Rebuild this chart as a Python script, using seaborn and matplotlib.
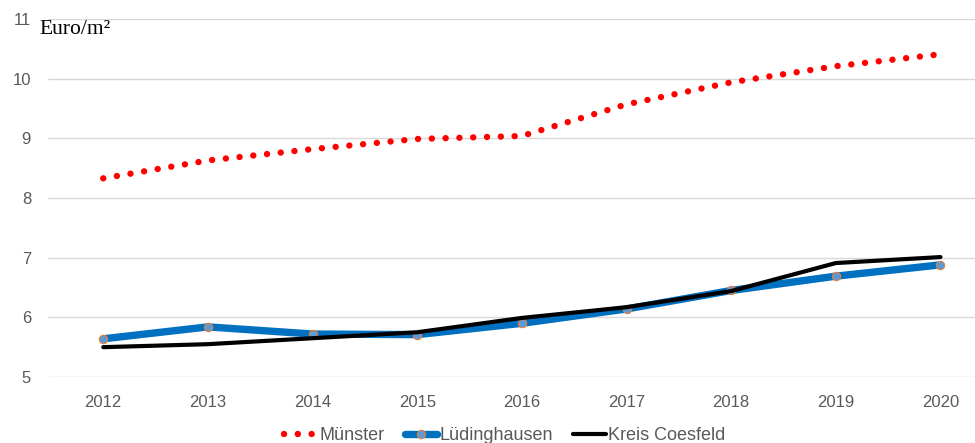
import numpy as np
import pandas as pd
import matplotlib
matplotlib.use('Agg')
import matplotlib.pyplot as plt
import seaborn as sns

# ==================== Daten ====================
years = [2012, 2013, 2014, 2015, 2016, 2017, 2018, 2019, 2020]
muenster = [8.33, 8.63, 8.82, 8.99, 9.04, 9.57, 9.94, 10.21, 10.41]
luedinghausen = [5.64, 5.84, 5.72, 5.71, 5.90, 6.14, 6.45, 6.69, 6.88]
kreis_coesfeld = [5.50, 5.55, 5.65, 5.75, 5.99, 6.17, 6.44, 6.91, 7.01]
y_ticks = [5, 6, 7, 8, 9, 10, 11]

df = pd.DataFrame({'Jahr': years, 'Münster': muenster,
                   'Lüdinghausen': luedinghausen, 'Kreis Coesfeld': kreis_coesfeld})

sns.set_style('white')
plt.rcParams['font.family'] = ['Liberation Sans', 'DejaVu Sans']
grey = '#595959'

fig = plt.figure(figsize=(9.75, 4.43), dpi=100)
ax = fig.add_axes([0.049, 0.149, 0.951, 0.808])

sns.lineplot(data=df, x='Jahr', y='Münster', ax=ax, color='#FF0000',
             linewidth=4.6, linestyle=(0, (0.01, 2.15)), dash_capstyle='round',
             label='Münster')
sns.lineplot(data=df, x='Jahr', y='Lüdinghausen', ax=ax, color='#0070C0',
             linewidth=5.3, marker='o', markersize=6, markerfacecolor='#5B9BD5',
             markeredgecolor='#ED7D31', markeredgewidth=0.8,
             label='Lüdinghausen')
sns.lineplot(data=df, x='Jahr', y='Kreis Coesfeld', ax=ax, color='black',
             linewidth=3, label='Kreis Coesfeld')

ax.set_xlim(2011.47, 2020.33)
ax.set_ylim(5, 11)
ax.set_xticks(years)
ax.set_yticks(y_ticks)
ax.set_xlabel('')
ax.set_ylabel('')
ax.grid(axis='y', color='#D9D9D9', linewidth=1)
ax.tick_params(axis='x', length=0, labelsize=12, colors=grey, pad=13)
ax.tick_params(axis='y', length=0, labelsize=12, colors=grey, pad=12)
for s in ax.spines.values():
    s.set_visible(False)

ax.text(2011.39, 10.82, 'Euro/m²', fontsize=15.5, family='Liberation Serif',
        color='black', va='center', ha='left')

handles, labels = ax.get_legend_handles_labels()
ax.get_legend().remove()
fig.legend(handles, labels, loc='lower center', bbox_to_anchor=(0.518, -0.04),
           ncol=3, frameon=False, fontsize=13, labelcolor=grey,
           handlelength=1.8, handletextpad=0.15, columnspacing=1.1)

plt.savefig('out.png', dpi=100)
